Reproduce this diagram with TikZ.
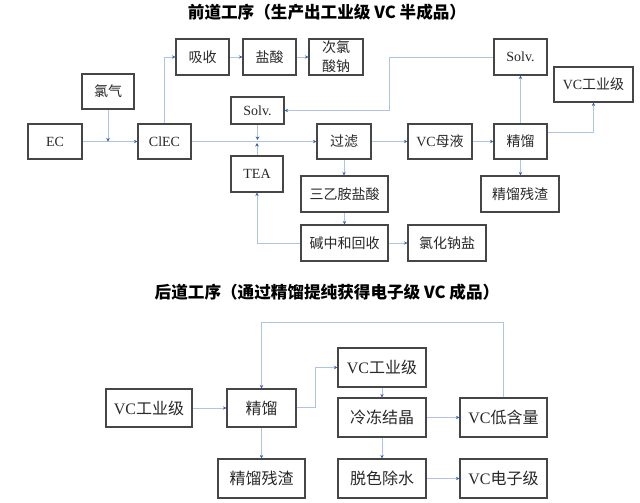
\documentclass[tikz,border=0pt]{standalone}
\usepackage{fontspec}
\setmainfont{Liberation Serif}
\newfontfamily\cjk{Noto Sans CJK SC}
\usetikzlibrary{arrows.meta}
\definecolor{boxc}{RGB}{70,70,70}
\definecolor{linec}{RGB}{172,196,230}
\definecolor{arrc}{RGB}{60,95,175}
\definecolor{txt}{RGB}{40,40,40}
\begin{document}
\begin{tikzpicture}[x=1pt,y=-1pt,
  box/.style={draw=boxc, line width=1.1pt, fill=white, text=txt, inner sep=0pt, align=center},
  sm/.style={box, font=\fontsize{14}{19}\selectfont},
  bg/.style={box, font=\fontsize{16}{19}\selectfont},
  arr/.style={draw=linec, line width=0.9pt, -{Stealth[length=3.5pt,width=3.5pt,color=arrc]}},
  ttl/.style={text=black, font=\cjk\bfseries\fontsize{16.6}{18}\selectfont}]
\fill[white] (0,0) rectangle (640,503);
\useasboundingbox (0,0) rectangle (640,503);
% titles
\node[ttl] (t1) at (327,12) {前道工序（生产出工业级 VC 半成品）};
\node[ttl] (t2) at (327,292) {后道工序（通过精馏提纯获得电子级 VC 成品）};
% top section
\node[sm, minimum width=53pt, minimum height=36pt] (xs) at (202.5,57) {\cjk 吸收};
\node[sm, minimum width=53pt, minimum height=36pt] (ys) at (269.5,57) {\cjk 盐酸};
\node[sm, minimum width=54pt, minimum height=36pt, font=\cjk\fontsize{14}{19}\selectfont] (cl) at (336,57) {次氯\\酸钠};
\node[sm, minimum width=53pt, minimum height=36pt] (solvT) at (520.5,57) {Solv.};
\node[sm, minimum width=79pt, minimum height=35pt] (vcT) at (593.5,84.5) {VC{\cjk 工业级}};
\node[sm, minimum width=52pt, minimum height=35pt] (clq) at (108,91.5) {\cjk 氯气};
\node[sm, minimum width=53pt, minimum height=27pt] (solvM) at (257.5,110.5) {Solv.};
\node[sm, minimum width=54pt, minimum height=35pt] (ec) at (55,141.5) {EC};
\node[sm, minimum width=53pt, minimum height=35pt] (clec) at (164.5,141.5) {ClEC};
\node[sm, minimum width=54pt, minimum height=35pt] (gl) at (344,141.5) {\cjk 过滤};
\node[sm, minimum width=64pt, minimum height=35pt] (mq) at (440,141.5) {VC{\cjk 母液}};
\node[sm, minimum width=53pt, minimum height=35pt] (jl) at (520.5,141.5) {\cjk 精馏};
\node[sm, minimum width=52pt, minimum height=36pt] (tea) at (257,174) {TEA};
\node[sm, minimum width=87pt, minimum height=36pt] (sy) at (344.5,194) {\cjk 三乙胺盐酸};
\node[sm, minimum width=87pt, minimum height=36pt] (jz) at (344.5,243) {\cjk 碱中和回收};
\node[sm, minimum width=78pt, minimum height=36pt] (lh) at (447,243) {\cjk 氯化钠盐};
\node[sm, minimum width=78pt, minimum height=36pt] (jc) at (520,194) {\cjk 精馏残渣};
% top connectors
\draw[arr] (ec) -- (clec);
\draw[arr] (clq.south) -- (clq.south |- ec.east);
\draw[arr] (clec.north) |- (xs.west);
\draw[arr] (xs) -- (ys);
\draw[arr] (ys) -- (cl);
\draw[arr] (clec) -- (gl);
\draw[arr] (solvM.south) -- ([yshift=1.5pt]solvM.south |- gl.west);
\draw[arr] (tea.north) -- ([yshift=-1.5pt]tea.north |- gl.west);
\draw[arr] (gl) -- (mq);
\draw[arr] (mq) -- (jl);
\draw[arr] (jl) -- (solvT);
\coordinate (k1) at (389,110.5);
\draw[arr] (solvT.west) -| (k1) -- (solvM.east);
\draw[arr] ([yshift=9pt]jl.east) -| (vcT.south);
\draw[arr] (jl.south) -- (jl.south |- jc.north);
\draw[arr] (gl.south) -- (gl.south |- sy.north);
\draw[arr] (sy) -- (jz);
\draw[arr] (jz.west) -| (tea.south);
\draw[arr] (jz) -- (lh);
% bottom section
\node[bg, minimum width=86pt, minimum height=38pt] (vcB) at (149,408) {VC{\cjk 工业级}};
\node[bg, minimum width=69pt, minimum height=38pt] (jlB) at (261.5,408) {\cjk 精馏};
\node[bg, minimum width=87pt, minimum height=39pt] (jcB) at (261.5,478.5) {\cjk 精馏残渣};
\node[bg, minimum width=88pt, minimum height=39pt] (vcM) at (382,367.5) {VC{\cjk 工业级}};
\node[bg, minimum width=88pt, minimum height=39pt] (ldjj) at (382,417.5) {\cjk 冷冻结晶};
\node[bg, minimum width=88pt, minimum height=39pt] (tsc) at (382,478.5) {\cjk 脱色除水};
\node[bg, minimum width=87pt, minimum height=39pt] (vcd) at (503.5,417.5) {VC{\cjk 低含量}};
\node[bg, minimum width=87pt, minimum height=39pt] (vce) at (503.5,478.5) {VC{\cjk 电子级}};
% bottom connectors
\draw[arr] (vcB) -- (jlB);
\coordinate (k2) at (315,367.5);
\draw[arr] ([yshift=1pt]jlB.east) -| (k2) -- (vcM.west);
\draw[arr] (jlB) -- (jcB);
\draw[arr] (vcM) -- (ldjj);
\draw[arr] (ldjj) -- (tsc);
\draw[arr] (ldjj) -- (vcd);
\draw[arr] (tsc) -- (vce);
\coordinate (k3) at (0,322.7);
\draw[arr] (vcd.north) -- (vcd.north |- k3) -| (jlB.north);
\end{tikzpicture}
\end{document}
